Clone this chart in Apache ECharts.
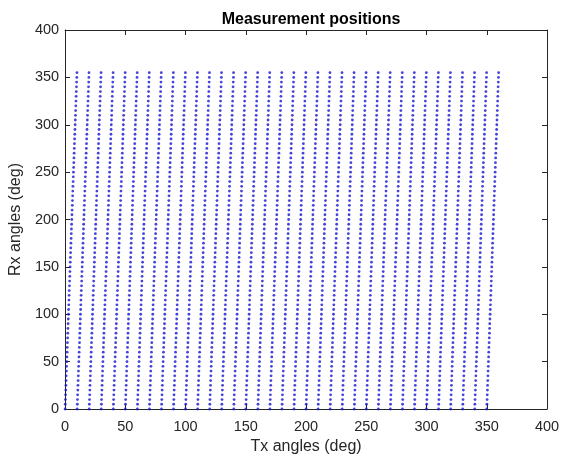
<!DOCTYPE html>
<html>
<head>
<meta charset="utf-8">
<script src="https://cdn.jsdelivr.net/npm/echarts@6/dist/echarts.min.js"></script>
<style>html,body{margin:0;padding:0;background:#fff}#c{width:564px;height:460px}</style>
</head>
<body>
<div id="c"></div>
<script>
// Tx start angle of each sweep (deg)
var txStarts = [0,10,20,30,40,50,60,70,80,90,100,110,120,130,140,150,160,170,180,190,200,210,220,230,240,250,260,270,280,290,300,310,320,330,340,350];
// Rx angles measured in each sweep (deg)
var rxAngles = [0,5,10,15,20,25,30,35,40,45,50,55,60,65,70,75,80,85,90,95,100,105,110,115,120,125,130,135,140,145,150,155,160,165,170,175,180,185,190,195,200,205,210,215,220,225,230,235,240,245,250,255,260,265,270,275,280,285,290,295,300,305,310,315,320,325,330,335,340,345,350,355];
// Tx advance during one full Rx turn (deg)
var txSweep = 10;
var xTicks = [0,50,100,150,200,250,300,350,400];
var yTicks = [0,50,100,150,200,250,300,350,400];

var pts = [];
txStarts.forEach(function (t) {
  rxAngles.forEach(function (r) { pts.push([t + txSweep * r / 360, r]); });
});

var axisCol = '#262626';
var font = 'Liberation Sans, Arial, sans-serif';
function mkAxis(pos, show, name, gap, ticks, margin) {
  return {
    type: 'value', position: pos, min: ticks[0], max: ticks[ticks.length - 1], interval: 50,
    name: name, nameLocation: 'middle', nameGap: gap,
    nameTextStyle: { color: axisCol, fontSize: 16, fontFamily: font },
    axisLine: { show: true, onZero: false, lineStyle: { color: axisCol, width: 1 } },
    axisTick: { show: true, inside: true, length: 5, lineStyle: { color: axisCol } },
    axisLabel: { show: show, color: axisCol, fontSize: 14.5, fontFamily: font, margin: margin },
    splitLine: { show: false }
  };
}
var chart = echarts.init(document.getElementById('c'));
chart.setOption({
  animation: false,
  title: { text: 'Measurement positions', left: 306, top: 7, textAlign: 'center',
    textStyle: { fontSize: 16, fontWeight: 'bold', color: '#000', fontFamily: font } },
  grid: { left: 65, right: 17, top: 30, bottom: 51 },
  xAxis: [mkAxis('bottom', true, 'Tx angles (deg)', 30, xTicks, 10), mkAxis('top', false, '', 0, xTicks, 8)],
  yAxis: [mkAxis('left', true, 'Rx angles (deg)', 38, yTicks, 6), mkAxis('right', false, '', 0, yTicks, 8)],
  series: [{
    type: 'scatter', data: pts, symbol: 'circle', symbolSize: 2.8,
    itemStyle: { color: '#1515d0' }, silent: true
  }]
});
</script>
</body>
</html>
